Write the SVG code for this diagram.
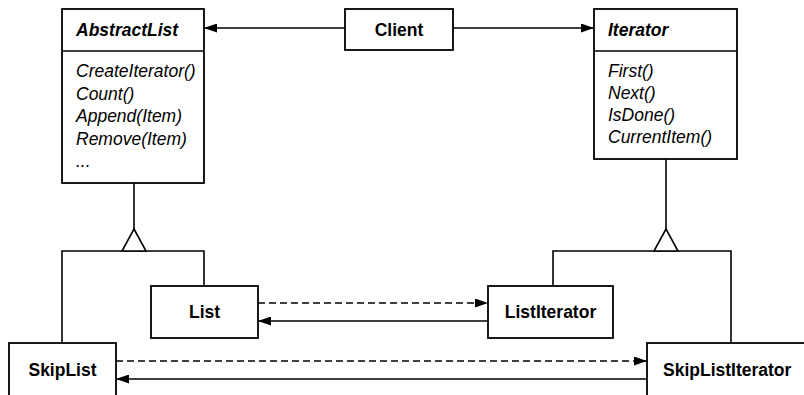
<svg xmlns="http://www.w3.org/2000/svg" width="804" height="395" viewBox="0 0 804 395">
<style>
.box{fill:#fff;stroke:#000;stroke-width:1.8}
.ln{fill:none;stroke:#000;stroke-width:1.6}
.dash{stroke-dasharray:7 4}
.tri{fill:#fff;stroke:#000;stroke-width:1.6}
.name{font-family:"Liberation Sans",Arial,sans-serif;font-weight:bold;font-size:17.5px;fill:#000}
.abs{font-family:"Liberation Sans",Arial,sans-serif;font-weight:bold;font-style:italic;font-size:17.5px;fill:#000}
.op{font-family:"Liberation Sans",Arial,sans-serif;font-style:italic;font-size:17.5px;fill:#000}
</style>
<defs>
<marker id="ah" markerWidth="13" markerHeight="9" refX="13" refY="4.5" orient="auto" markerUnits="userSpaceOnUse">
<path d="M0,0 L13,4.5 L0,9 Z" fill="#000"/>
</marker>
</defs>
<rect width="804" height="395" fill="#fff"/>
<g id="connectors">
<line class="ln" x1="345" y1="28" x2="204" y2="28" marker-end="url(#ah)"/>
<line class="ln" x1="453" y1="28" x2="594" y2="28" marker-end="url(#ah)"/>
<line class="ln" x1="134" y1="183" x2="134" y2="229"/>
<polyline class="ln" points="62,343 62,251 204,251 204,286"/>
<polygon class="tri" points="134,229 146,251 122,251"/>
<line class="ln" x1="666" y1="159" x2="666" y2="229"/>
<polyline class="ln" points="553,286 553,251 731,251 731,343"/>
<polygon class="tri" points="666,229 678,251 654,251"/>
<line class="ln dash" x1="258" y1="303" x2="488" y2="303" marker-end="url(#ah)"/>
<line class="ln" x1="488" y1="321" x2="258" y2="321" marker-end="url(#ah)"/>
<line class="ln dash" x1="116" y1="361" x2="647" y2="361" marker-end="url(#ah)"/>
<line class="ln" x1="647" y1="379" x2="116" y2="379" marker-end="url(#ah)"/>
</g>
<g id="AbstractList">
<rect class="box" x="62" y="9" width="142" height="174"/>
<line class="ln" x1="62" y1="51" x2="204" y2="51"/>
<text class="abs" x="76" y="36">AbstractList</text>
<text class="op" x="76" y="77">CreateIterator()</text>
<text class="op" x="76" y="99.5">Count()</text>
<text class="op" x="76" y="122">Append(Item)</text>
<text class="op" x="76" y="144.5">Remove(Item)</text>
<text class="op" x="76" y="167">...</text>
</g>
<g id="Client">
<rect class="box" x="345" y="9" width="108" height="41"/>
<text class="name" x="399" y="36" text-anchor="middle">Client</text>
</g>
<g id="Iterator">
<rect class="box" x="594" y="9" width="143" height="150"/>
<line class="ln" x1="594" y1="51" x2="737" y2="51"/>
<text class="abs" x="608" y="36">Iterator</text>
<text class="op" x="608" y="77">First()</text>
<text class="op" x="608" y="99">Next()</text>
<text class="op" x="608" y="121">IsDone()</text>
<text class="op" x="608" y="143">CurrentItem()</text>
</g>
<g id="List">
<rect class="box" x="151" y="286" width="107" height="52"/>
<text class="name" x="204.5" y="318" text-anchor="middle">List</text>
</g>
<g id="ListIterator">
<rect class="box" x="488" y="286" width="125" height="52"/>
<text class="name" x="550.5" y="318" text-anchor="middle">ListIterator</text>
</g>
<g id="SkipList">
<rect class="box" x="9" y="343" width="107" height="70"/>
<text class="name" x="62.5" y="376" text-anchor="middle">SkipList</text>
</g>
<g id="SkipListIterator">
<rect class="box" x="647" y="343" width="170" height="70"/>
<text class="name" x="663" y="376">SkipListIterator</text>
</g>
</svg>
